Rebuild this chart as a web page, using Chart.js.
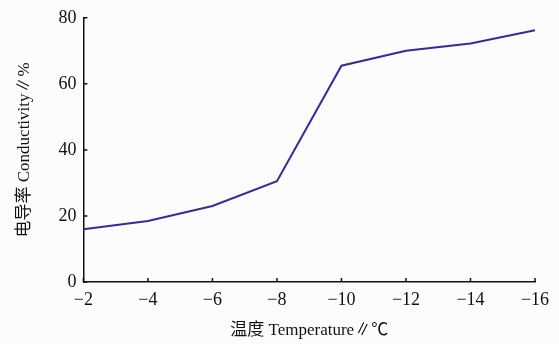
<!DOCTYPE html>
<html>
<head>
<meta charset="utf-8">
<script src="https://cdn.jsdelivr.net/npm/chart.js@4"></script>
<style>
  html, body { margin: 0; padding: 0; background: #fcfcfc; }
  #wrap { width: 559px; height: 344px; }
</style>
</head>
<body>
<div id="wrap"><canvas id="c"></canvas></div>
<script>
const temps = ['−2', '−4', '−6', '−8', '−10', '−12', '−14', '−16'];
const conductivity = [16, 18.5, 23, 30.5, 65.5, 70, 72.2, 76.2];
const yTicks = [0, 20, 40, 60, 80];

const ink = '#111';
const serif = "'Liberation Serif', 'Noto Sans CJK SC', serif";

/* inward tick marks on both axes */
const innerTicks = {
    id: 'innerTicks',
    afterDraw(chart) {
        const { ctx, scales: { x, y }, chartArea: a } = chart;
        ctx.save();
        ctx.strokeStyle = ink;
        ctx.lineWidth = 1.5;
        ctx.beginPath();
        x.ticks.forEach((t, i) => {
            const px = x.getPixelForTick(i);
            ctx.moveTo(px, a.bottom);
            ctx.lineTo(px, a.bottom - 4);
        });
        y.ticks.forEach((t, i) => {
            const py = y.getPixelForTick(i);
            ctx.moveTo(a.left, py);
            ctx.lineTo(a.left + 4, py);
        });
        ctx.stroke();
        ctx.restore();
    }
};

new Chart(document.getElementById('c'), {
    type: 'line',
    data: {
        labels: temps,
        datasets: [{
            data: conductivity,
            borderColor: '#2f2f98',
            borderWidth: 2,
            pointRadius: 0,
            tension: 0,
            fill: false
        }]
    },
    options: {
        responsive: true,
        maintainAspectRatio: false,
        animation: false,
        layout: { padding: { left: 14, right: 24, top: 8, bottom: 3 } },
        plugins: { legend: { display: false }, tooltip: { enabled: false } },
        scales: {
            x: {
                offset: false,
                grid: { display: false, drawTicks: false },
                border: { color: ink, width: 1.5 },
                ticks: { color: ink, font: { family: serif, size: 18 }, padding: 7, maxRotation: 0, autoSkip: false },
                title: { display: true, text: '温度 Temperature∥℃', color: ink, font: { family: serif, size: 17 }, padding: { top: 3, bottom: 0 } }
            },
            y: {
                min: 0,
                max: 80,
                afterBuildTicks: s => { s.ticks = yTicks.map(v => ({ value: v })); },
                grid: { display: false, drawTicks: false },
                border: { color: ink, width: 1.5 },
                ticks: { color: ink, font: { family: serif, size: 18 }, padding: 7 },
                title: { display: true, text: '电导率 Conductivity∥%', color: ink, font: { family: serif, size: 17 }, padding: { top: 0, bottom: 17 } }
            }
        }
    },
    plugins: [innerTicks]
});
</script>
</body>
</html>
